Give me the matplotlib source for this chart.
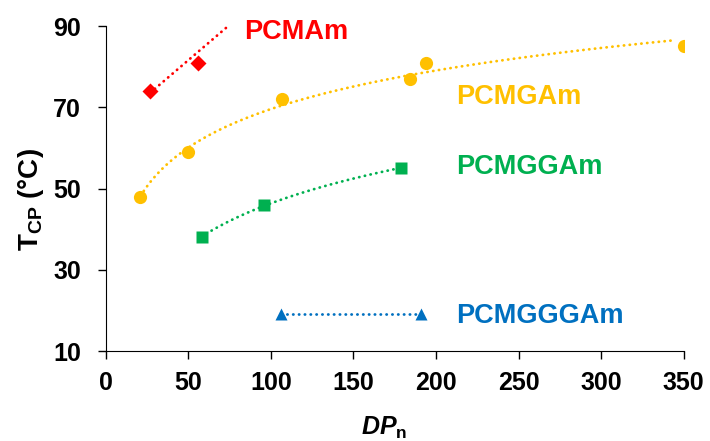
"""
浊点温度 vs 聚合度
"""
import matplotlib
matplotlib.use('Agg')
import matplotlib.pyplot as plt
import numpy as np

plt.rcParams['font.family'] = ['Liberation Sans', 'DejaVu Sans']
plt.rcParams['mathtext.fontset'] = 'custom'
plt.rcParams['mathtext.rm'] = 'Liberation Sans:bold'
plt.rcParams['mathtext.it'] = 'Liberation Sans:italic:bold'
plt.rcParams['mathtext.bf'] = 'Liberation Sans:bold'

# data
mam_dp = [27, 56]
mam_t = [74, 81]
mam_trend_dp = [27, 73]
mam_trend_t = [73.6, 89.6]

mgam_dp = [21, 50, 107, 184, 194, 350]
mgam_t = [48, 59, 72, 77, 81, 85]

mggam_dp = [58, 96, 179]
mggam_t = [38, 46, 55]

mgggam_dp = [106, 191]
mgggam_t = [19, 19]

names = ['PCMAm', 'PCMGAm', 'PCMGGAm', 'PCMGGGAm']
colors = ['#FF0000', '#FFC000', '#00B050', '#0070C0']


def log_trend(x, y, x_end=None):
    a, b = np.polyfit(np.log(x), y, 1)
    xs = np.linspace(min(x), x_end if x_end else max(x), 100)
    return xs, a * np.log(xs) + b


dots = dict(ls=(0, (0.1, 2.0)), lw=2.0, dash_capstyle='round', zorder=2)

fig, ax = plt.subplots(figsize=(7.1, 4.41), dpi=100)
fig.subplots_adjust(left=0.149, right=0.963, top=0.941, bottom=0.204)

# trend lines
ax.plot(mam_trend_dp, mam_trend_t, color=colors[0], **dots)
xs, ys = log_trend(mgam_dp, mgam_t, 345)
ax.plot(xs, ys, color=colors[1], **dots)
xs, ys = log_trend(mggam_dp, mggam_t)
ax.plot(xs, ys, color=colors[2], **dots)
ax.plot(mgggam_dp, mgggam_t, color=colors[3], **dots)

# points
ax.plot(mam_dp, mam_t, 'D', color=colors[0], ms=8, mec='none', zorder=3)
ax.plot(mgam_dp, mgam_t, 'o', color=colors[1], ms=9.5, mec='none', zorder=3)
ax.plot(mggam_dp, mggam_t, 's', color=colors[2], ms=9, mec='none', zorder=3)
ax.plot(mgggam_dp, mgggam_t, '^', color=colors[3], ms=9, mec='none', zorder=3)

# series labels
label_pos = [(84, 88.5), (212, 72.5), (212, 55.3), (212, 18.6)]
for name, c, (x, y) in zip(names, colors, label_pos):
    ax.text(x, y, name, color=c, fontsize=19.5, fontweight='bold', va='center', ha='left')

ax.set_xlim(0, 350)
ax.set_ylim(10, 90)
ax.set_xticks(np.arange(0, 351, 50))
ax.set_yticks(np.arange(10, 91, 20))
ax.tick_params(labelsize=18, width=1, length=6, direction='out')
ax.tick_params(axis='y', pad=12)
ax.tick_params(axis='x', pad=8.5)
for lab in ax.get_xticklabels() + ax.get_yticklabels():
    lab.set_fontweight('bold')
ax.spines['top'].set_visible(False)
ax.spines['right'].set_visible(False)

ax.set_ylabel('T$_{\\mathrm{CP}}$ (°C)', fontsize=20, fontweight='bold')
ax.yaxis.label.set_va('center')
ax.yaxis.set_label_coords(-0.13, 0.465)
ax.set_xlabel('$\\mathit{DP}_{\\mathrm{n}}$', fontsize=18, fontweight='bold')
ax.xaxis.label.set_va('center')
ax.xaxis.set_label_coords(0.481, -0.237)

fig.savefig('out.png', dpi=100)
